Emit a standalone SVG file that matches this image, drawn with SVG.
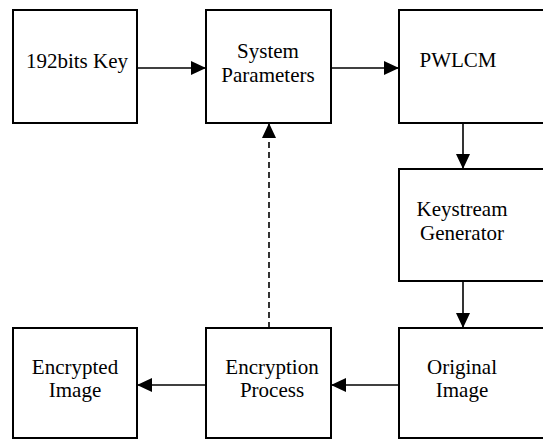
<svg xmlns="http://www.w3.org/2000/svg" width="543" height="440" viewBox="0 0 543 440">
<style>
.box{fill:#fff;stroke:#000;stroke-width:2}
.con{stroke:#000;stroke-width:1.6;fill:none;marker-end:url(#ah)}
.dash{stroke-dasharray:6,4}
</style>
<defs>
<marker id="ah" markerUnits="userSpaceOnUse" markerWidth="16" markerHeight="15" refX="15" refY="7" orient="auto">
<path d="M0,0 L15,7 L0,14 z" fill="#000"/>
</marker>
</defs>
<g id="connectors">
<line class="con" x1="137" y1="68" x2="206" y2="68"/>
<line class="con" x1="331" y1="68" x2="399" y2="68"/>
<line class="con" x1="463" y1="123" x2="463" y2="169"/>
<line class="con" x1="463" y1="281" x2="463" y2="328"/>
<line class="con" x1="399" y1="385" x2="331" y2="385"/>
<line class="con" x1="206" y1="385" x2="137" y2="385"/>
<line class="con dash" x1="269" y1="328" x2="269" y2="123"/>
</g>
<g font-family="Liberation Serif, DejaVu Serif, serif" font-size="21" text-anchor="middle" fill="#000">
<g id="key">
<rect class="box" x="13" y="10" width="124" height="113"/>
<text x="77" y="68">192bits Key</text>
</g>
<g id="params">
<rect class="box" x="206" y="10" width="125" height="113"/>
<text x="268" y="58">System</text>
<text x="268" y="81.5">Parameters</text>
</g>
<g id="pwlcm">
<rect class="box" x="399" y="10" width="150" height="113"/>
<text x="458" y="67">PWLCM</text>
</g>
<g id="keystream">
<rect class="box" x="399" y="169" width="150" height="112"/>
<text x="462" y="216">Keystream</text>
<text x="462" y="240">Generator</text>
</g>
<g id="original">
<rect class="box" x="399" y="328" width="150" height="110"/>
<text x="462" y="374">Original</text>
<text x="462" y="397">Image</text>
</g>
<g id="encryption">
<rect class="box" x="206" y="328" width="125" height="110"/>
<text x="272" y="374">Encryption</text>
<text x="272" y="397">Process</text>
</g>
<g id="encrypted">
<rect class="box" x="13" y="328" width="124" height="110"/>
<text x="75" y="374">Encrypted</text>
<text x="75" y="397">Image</text>
</g>
</g>
</svg>
